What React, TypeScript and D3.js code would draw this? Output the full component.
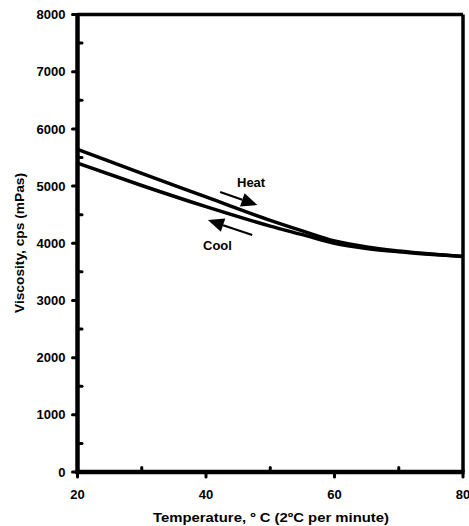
import React from "react";
import * as d3 from "d3";

const temps = [20, 30, 40, 50, 55, 60, 65, 70, 80];
const heatVisc = [5640, 5220, 4810, 4400, 4215, 4040, 3935, 3865, 3770];
const coolVisc = [5400, 5010, 4640, 4300, 4150, 4000, 3910, 3850, 3770];
const yMajor = [0, 1000, 2000, 3000, 4000, 5000, 6000, 7000, 8000];
const yMinor = [500, 1500, 2500, 3500, 4500, 5500, 6500, 7500];
const xMajor = [20, 40, 60, 80];
const xMinor = [30, 50, 70];
// arrow annotations in data coordinates: [tailT, tailV, tipT, tipV]
const heatArrow = [42.2, 4895, 48.0, 4668];
const coolArrow = [47.2, 4143, 40.3, 4406];

const W = 469, H = 526;
const FONT = "Arial, 'Liberation Sans', sans-serif";

export default function App() {
  const x = d3.scaleLinear().domain([20, 80]).range([77.5, 463]);
  const y = d3.scaleLinear().domain([0, 8000]).range([472, 14.5]);
  const line = d3
    .line<number>()
    .x((_, i) => x(temps[i]))
    .y((d) => y(d))
    .curve(d3.curveMonotoneX);

  const arrow = (a: number[], key: string) => {
    const x1 = x(a[0]), y1 = y(a[1]), x2 = x(a[2]), y2 = y(a[3]);
    const ang = Math.atan2(y2 - y1, x2 - x1);
    const L = 16, hw = 7;
    const bx = x2 - L * Math.cos(ang), by = y2 - L * Math.sin(ang);
    const px = -Math.sin(ang) * hw, py = Math.cos(ang) * hw;
    return (
      <g key={key}>
        <line x1={x1} y1={y1} x2={bx} y2={by} stroke="#000" strokeWidth={2.2} />
        <polygon points={`${x2},${y2} ${bx + px},${by + py} ${bx - px},${by - py}`} fill="#000" />
      </g>
    );
  };

  const x0 = x(20), x1 = x(80), y0 = y(0), y1 = y(8000);

  return (
    <svg width={W} height={H} style={{ position: "absolute", left: 0, top: 0, background: "#fff" }}>
      <rect x={0} y={0} width={W} height={H} fill="#fff" />
      {/* curves */}
      <path d={line(heatVisc) || ""} fill="none" stroke="#000" strokeWidth={3.5} />
      <path d={line(coolVisc) || ""} fill="none" stroke="#000" strokeWidth={3.5} />
      {/* frame */}
      <line x1={x0} y1={y1} x2={x1} y2={y1} stroke="#000" strokeWidth={3.5} />
      <line x1={x1} y1={y1} x2={x1} y2={y0} stroke="#000" strokeWidth={3.5} />
      <line x1={x0} y1={y1 - 1.5} x2={x0} y2={y0 + 2} stroke="#000" strokeWidth={4.5} />
      <line x1={x0 - 2} y1={y0} x2={x1 + 1.5} y2={y0} stroke="#000" strokeWidth={4.5} />
      {/* y ticks */}
      {yMajor.map((v) => (
        <g key={"ym" + v}>
          <line x1={x0 - 5} y1={y(v)} x2={x0} y2={y(v)} stroke="#000" strokeWidth={3} strokeLinecap="round" />
          <text x={x0 - 12} y={y(v)} dy="0.36em" textAnchor="end" fontFamily={FONT} fontWeight="bold" fontSize={13}>
            {v}
          </text>
        </g>
      ))}
      {yMinor.map((v) => (
        <line key={"yn" + v} x1={x0} y1={y(v)} x2={x0 + 4.5} y2={y(v)} stroke="#000" strokeWidth={3} strokeLinecap="round" />
      ))}
      {/* x ticks */}
      {xMajor.map((v) => (
        <g key={"xm" + v}>
          <line x1={x(v)} y1={y0} x2={x(v)} y2={y0 + 5} stroke="#000" strokeWidth={3} strokeLinecap="round" />
          <text x={x(v)} y={y0 + 27} textAnchor="middle" fontFamily={FONT} fontWeight="bold" fontSize={13}>
            {v}
          </text>
        </g>
      ))}
      {xMinor.map((v) => (
        <line key={"xn" + v} x1={x(v)} y1={y0} x2={x(v)} y2={y0 - 4.5} stroke="#000" strokeWidth={3} strokeLinecap="round" />
      ))}
      {/* axis titles */}
      <text
        x={153}
        y={522}
        textLength={236}
        lengthAdjust="spacingAndGlyphs"
        fontFamily={FONT}
        fontWeight="bold"
        fontSize={12.5}
      >
        Temperature, º C (2ºC per minute)
      </text>
      <text
        transform={`translate(24, 313) rotate(-90)`}
        textLength={140}
        lengthAdjust="spacingAndGlyphs"
        fontFamily={FONT}
        fontWeight="bold"
        fontSize={12.5}
      >
        Viscosity, cps (mPas)
      </text>
      {/* annotations */}
      {arrow(heatArrow, "h")}
      {arrow(coolArrow, "c")}
      <text x={237} y={187} fontFamily={FONT} fontWeight="bold" fontSize={13}>Heat</text>
      <text x={203} y={250} fontFamily={FONT} fontWeight="bold" fontSize={13}>Cool</text>
    </svg>
  );
}
